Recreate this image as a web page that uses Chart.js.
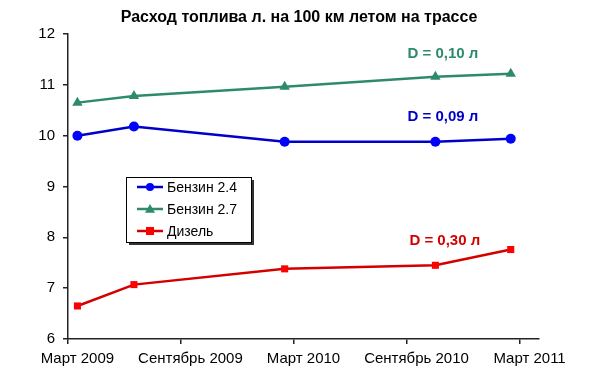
<!DOCTYPE html>
<html>
<head>
<meta charset="utf-8">
<script src="https://cdn.jsdelivr.net/npm/chart.js@4.4.1/dist/chart.umd.min.js"></script>
<style>
    html, body { margin: 0; padding: 0; background: #fff; }
    #wrap { width: 600px; height: 385px; }
</style>
</head>
<body>
<div id="wrap"><canvas id="fuelChart"></canvas></div>
<script>
// measurement months and values (l / 100 km)
const periods = ['2009-03', '2009-06', '2010-02', '2010-10', '2011-02'];
const petrol24 = [10.00, 10.18, 9.88, 9.88, 9.94];
const petrol27 = [10.65, 10.78, 10.96, 11.16, 11.22];
const diesel = [6.65, 7.07, 7.38, 7.45, 7.76];
const seriesNames = ['Бензин 2.4', 'Бензин 2.7', 'Дизель'];
const diffLabels = ['D = 0,09 л', 'D = 0,10 л', 'D = 0,30 л'];
const xTickMonths = ['2009-03', '2009-09', '2010-03', '2010-09', '2011-03'];
const xTickLabels = ['Март 2009', 'Сентябрь 2009', 'Март 2010', 'Сентябрь 2010', 'Март 2011'];
const chartTitle = 'Расход топлива л. на 100 км летом на трассе';

const FONT = "'Liberation Sans', Arial, sans-serif";

// months since March 2009 (each month is one slot, points sit in the middle)
function monthIndex(p) {
    const [y, m] = p.split('-').map(Number);
    return (y - 2009) * 12 + (m - 3);
}
const toPoints = (vals) => vals.map((v, i) => ({ x: monthIndex(periods[i]) + 0.5, y: v }));
const tickValues = xTickMonths.map(monthIndex);

const colors = [
    { line: '#0000c8', point: '#0000ff', style: 'circle', r: 5 },
    { line: '#2e8b6a', point: '#2e8b6a', style: 'triangle', r: 6 },
    { line: '#d40000', point: '#ff0000', style: 'rect', r: 5 }
];

function drawMarker(ctx, style, x, y, r, color) {
    ctx.fillStyle = color;
    ctx.beginPath();
    if (style === 'circle') {
        ctx.arc(x, y, r, 0, Math.PI * 2);
    } else if (style === 'triangle') {
        ctx.moveTo(x, y - r);
        ctx.lineTo(x + r, y + r * 0.75);
        ctx.lineTo(x - r, y + r * 0.75);
        ctx.closePath();
    } else {
        ctx.rect(x - r, y - r, r * 2, r * 2);
    }
    ctx.fill();
}

const overlayPlugin = {
    id: 'overlay',
    afterDatasetsDraw(chart) {
        const ctx = chart.ctx;
        const xs = chart.scales.x, ys = chart.scales.y;
        ctx.save();

        // title
        ctx.font = 'bold 16px ' + FONT;
        ctx.fillStyle = '#000';
        ctx.textAlign = 'center';
        ctx.textBaseline = 'middle';
        ctx.fillText(chartTitle, 299, 18);

        // D labels
        const diffPos = [[19.9, 10.37], [19.9, 11.6], [20.0, 7.93]];
        ctx.font = 'bold 15px ' + FONT;
        diffLabels.forEach((t, i) => {
            ctx.fillStyle = colors[i].line;
            ctx.fillText(t, xs.getPixelForValue(diffPos[i][0]), ys.getPixelForValue(diffPos[i][1]));
        });

        // legend box
        const bx = 126, by = 177, bw = 125, bh = 65;
        ctx.fillStyle = '#333';
        ctx.fillRect(bx + 3, by + 3, bw, bh);
        ctx.fillStyle = '#fff';
        ctx.fillRect(bx, by, bw, bh);
        ctx.strokeStyle = '#000';
        ctx.lineWidth = 1;
        ctx.strokeRect(bx + 0.5, by + 0.5, bw, bh);
        ctx.font = '14px ' + FONT;
        ctx.textAlign = 'left';
        seriesNames.forEach((name, i) => {
            const ry = by + 10 + i * 22;
            ctx.strokeStyle = colors[i].line;
            ctx.lineWidth = 2.5;
            ctx.beginPath();
            ctx.moveTo(bx + 11, ry);
            ctx.lineTo(bx + 37, ry);
            ctx.stroke();
            drawMarker(ctx, colors[i].style, bx + 24, ry, colors[i].r - 1, colors[i].point);
            ctx.fillStyle = '#000';
            ctx.fillText(name, bx + 41, ry + 1);
        });
        ctx.restore();
    }
};

const datasetOf = (i, vals) => ({
    label: seriesNames[i],
    data: toPoints(vals),
    borderColor: colors[i].line,
    borderWidth: 2.5,
    pointStyle: colors[i].style,
    pointRadius: colors[i].r,
    pointBackgroundColor: colors[i].point,
    pointBorderColor: colors[i].point,
    pointBorderWidth: 0,
    tension: 0
});

const ctx = document.getElementById('fuelChart').getContext('2d');
const fuelChart = new Chart(ctx, {
    type: 'line',
    data: {
        datasets: [datasetOf(0, petrol24), datasetOf(1, petrol27), datasetOf(2, diesel)]
    },
    options: {
        responsive: true,
        maintainAspectRatio: false,
        animation: false,
        layout: { padding: { left: 0, right: 61, top: 34, bottom: 0 } },
        plugins: {
            legend: { display: false },
            tooltip: { enabled: false },
            title: { display: false }
        },
        scales: {
            x: {
                type: 'linear',
                min: 0,
                max: 25,
                afterBuildTicks: (s) => { s.ticks = tickValues.map(v => ({ value: v })); },
                afterFit: (s) => { s.height = 46; },
                grid: { drawOnChartArea: false, color: '#222', lineWidth: 1.5, tickLength: 5 },
                border: { display: true, color: '#222', width: 1.5 },
                ticks: {
                    autoSkip: false,
                    maxRotation: 0,
                    labelOffset: 9.4,
                    padding: 6,
                    color: '#000',
                    font: { family: FONT, size: 15 },
                    callback: (v) => xTickLabels[tickValues.indexOf(v)]
                }
            },
            y: {
                min: 6,
                max: 12,
                afterFit: (s) => { s.width = 68; },
                grid: { drawOnChartArea: false, color: '#222', lineWidth: 1.5, tickLength: 5 },
                border: { display: true, color: '#222', width: 1.5 },
                ticks: {
                    stepSize: 1,
                    padding: 8,
                    color: '#000',
                    font: { family: FONT, size: 15 }
                }
            }
        }
    },
    plugins: [overlayPlugin]
});
</script>
</body>
</html>
